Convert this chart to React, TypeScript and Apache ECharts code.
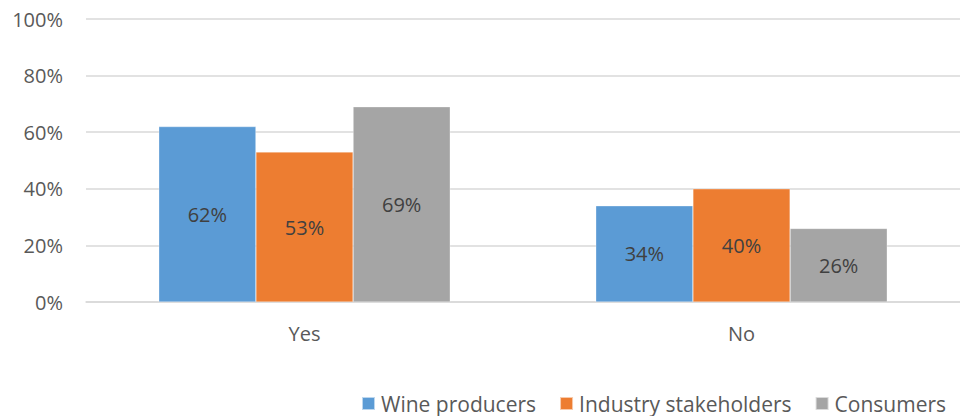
import React, { useEffect, useRef } from "react";
import * as echarts from "echarts";

const categories = ["Yes", "No"];
const seriesNames = ["Wine producers", "Industry stakeholders", "Consumers"];
const wineProducers = [62, 34];
const industryStakeholders = [53, 40];
const consumers = [69, 26];
const colors = ["#5B9BD5", "#ED7D31", "#A5A5A5"];

const FONT = "'Open Sans', 'Noto Sans', sans-serif";

export default function App() {
  const ref = useRef<HTMLDivElement>(null);
  useEffect(() => {
    if (!ref.current) return;
    const chart = echarts.init(ref.current, null, { renderer: "svg" });
    const values = [wineProducers, industryStakeholders, consumers];
    chart.setOption({
      animation: false,
      textStyle: { fontFamily: FONT },
      grid: { left: 86, top: 19, width: 877, height: 283, containLabel: false },
      legend: {
        data: seriesNames,
        left: 361,
        top: 393,
        padding: 0,
        icon: "rect",
        itemWidth: 13,
        itemHeight: 13,
        itemGap: 23,
        textStyle: { fontFamily: FONT, fontSize: 21, lineHeight: 21, color: "#595959", padding: [0, 0, 0, 1] },
      },
      xAxis: {
        type: "category",
        data: categories,
        axisLine: { show: true, lineStyle: { color: "#D9D9D9", width: 1.5 } },
        axisTick: { show: false },
        axisLabel: { fontFamily: FONT, fontSize: 20, color: "#595959", margin: 21 },
      },
      yAxis: {
        type: "value",
        min: 0,
        max: 100,
        interval: 20,
        axisLine: { show: false },
        axisTick: { show: false },
        splitLine: { lineStyle: { color: "#D9D9D9", width: 1.5 } },
        axisLabel: {
          fontFamily: FONT,
          fontSize: 20,
          color: "#595959",
          margin: 23,
          formatter: (v: number) => v + "%",
        },
      },
      series: seriesNames.map((name, i) => ({
        name,
        type: "bar",
        data: values[i],
        barGap: "0%",
        barCategoryGap: "33.3%",
        itemStyle: { color: colors[i], borderColor: "rgba(255,255,255,0.6)", borderWidth: 0.5 },
        label: {
          show: true,
          position: "inside",
          fontFamily: FONT,
          fontSize: 20,
          color: "#404040",
          formatter: (p: any) => p.value + "%",
        },
      })),
    });
    return () => chart.dispose();
  }, []);
  return (
    <div
      ref={ref}
      style={{ position: "fixed", left: 0, top: 0, width: 960, height: 416, background: "#fff" }}
    />
  );
}
